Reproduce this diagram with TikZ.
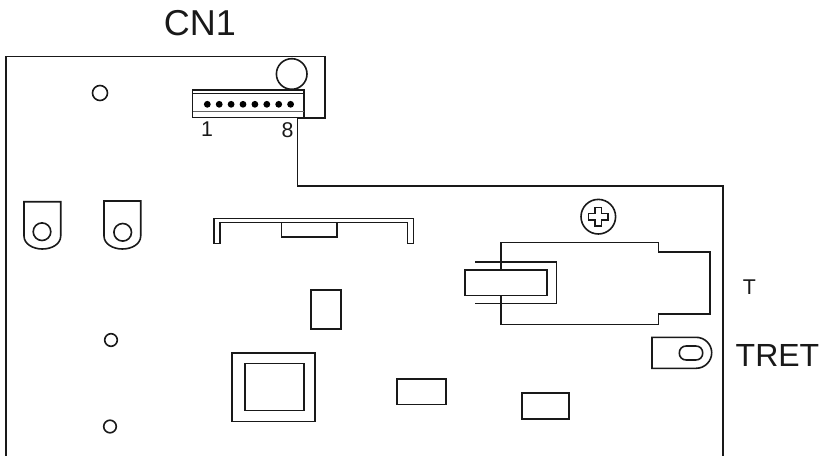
\documentclass[tikz,border=0pt]{standalone}
\usepackage{fontspec}
\setmainfont{Liberation Sans}
\tikzset{
  ln/.style={draw=black!90,line width=1.2pt,line join=miter},
  thin ln/.style={draw=black!90,line width=0.9pt},
  lbl/.style={inner sep=0pt,text=black!90,anchor=center}
}
\begin{document}
\begin{tikzpicture}[x=0.75pt,y=-0.75pt]
\useasboundingbox (0,0) rectangle (827,456);
% board outline
\draw[ln] (6,456) -- (6,56.5) -- (325,56.5) -- (325,118.3) -- (297.5,118.3) -- (297.5,186) -- (723,186) -- (723,456);
% connector CN1
\draw[thin ln] (192.7,90) rectangle (304,117.7);
\draw[thin ln] (192.7,93.3) -- (304,93.3);
\draw[thin ln,draw=black!60] (192.7,111.7) -- (304,111.7);
\foreach \x in {0,...,7}{\fill[black] (207.3+\x*11.9,104.3) circle[radius=3.4];}
\draw[ln] (291.7,74) circle[radius=15.3];
% small holes
\draw[ln] (100,93) circle[radius=7.5];
\draw[ln] (111,340) circle[radius=6.3];
\draw[ln] (110,426.5) circle[radius=6.3];
% left tabs
\draw[ln] (24,201.7) -- (60.7,201.7) -- (60.7,236) .. controls (60.7,244) and (52,249) .. (42.3,249) .. controls (33,249) and (24,244) .. (24,236) -- cycle;
\draw[ln] (42,231.7) circle[radius=8.8];
\draw[ln] (104,201) -- (140.7,201) -- (140.7,236) .. controls (140.7,244) and (132,249) .. (122.3,249) .. controls (113,249) and (104,244) .. (104,236) -- cycle;
\draw[ln] (122.7,232.3) circle[radius=8.8];
% long clip
\draw[ln] (214,243.3) -- (214,218.3) -- (413.3,218.3) -- (413.3,243.3) -- (407.3,243.3) -- (407.3,222.3) -- (220,222.3) -- (220,243.3) -- cycle;
\draw[ln] (281.3,222.3) rectangle (337,237);
% parts
\draw[ln] (310.7,290) rectangle (341,328.7);
\draw[ln] (232,353) rectangle (315,421.3);
\draw[ln] (244.7,363.3) rectangle (303.7,410.3);
\draw[ln] (397,379) rectangle (445.7,404.3);
\draw[ln] (521.7,393) rectangle (568.7,418.7);
% screw
\draw[ln] (598.3,216.7) circle[radius=17.3];
\draw[ln] (595,207.5) -- (601.5,207.5) -- (601.5,213.5) -- (608,213.5) -- (608,220) -- (601.5,220) -- (601.5,226) -- (595,226) -- (595,220) -- (588.5,220) -- (588.5,213.5) -- (595,213.5) -- cycle;
% switch body
\draw[ln] (501,270) -- (501,242.3) -- (658.3,242.3) -- (658.3,251.7) -- (710,251.7) -- (710,314) -- (658.3,314) -- (658.3,324.3) -- (501,324.3) -- (501,295.5);
\draw[ln] (465,270) rectangle (546.7,295.5);
\draw[ln] (475,261.7) -- (556.3,261.7) -- (556.3,303.3) -- (475.3,303.3);
% right tab
\draw[ln] (696,337.3) -- (652,337.3) -- (652,368.3) -- (696,368.3) .. controls (705,368.3) and (711.7,361) .. (711.7,352.8) .. controls (711.7,344.5) and (705,337.3) .. (696,337.3) -- cycle;
\draw[ln] (686.3,346) -- (695.7,346) .. controls (700,346) and (702.7,349) .. (702.7,353) .. controls (702.7,357) and (700,360) .. (695.7,360) -- (686.3,360) .. controls (682,360) and (679.3,357) .. (679.3,353) .. controls (679.3,349) and (682,346) .. (686.3,346) -- cycle;
% labels
\node[lbl,font=\fontsize{27pt}{30pt}\selectfont] (cn) at (200,23) {CN1};
\node[lbl,font=\fontsize{16pt}{18pt}\selectfont] (p1) at (207,129) {1};
\node[lbl,font=\fontsize{16pt}{18pt}\selectfont] (p8) at (287.5,130) {8};
\node[lbl,font=\fontsize{16pt}{18pt}\selectfont] (t) at (749.5,287) {T};
\node[lbl,font=\fontsize{24pt}{26pt}\selectfont] (tret) at (777.5,355.5) {TRET};
\end{tikzpicture}
\end{document}
